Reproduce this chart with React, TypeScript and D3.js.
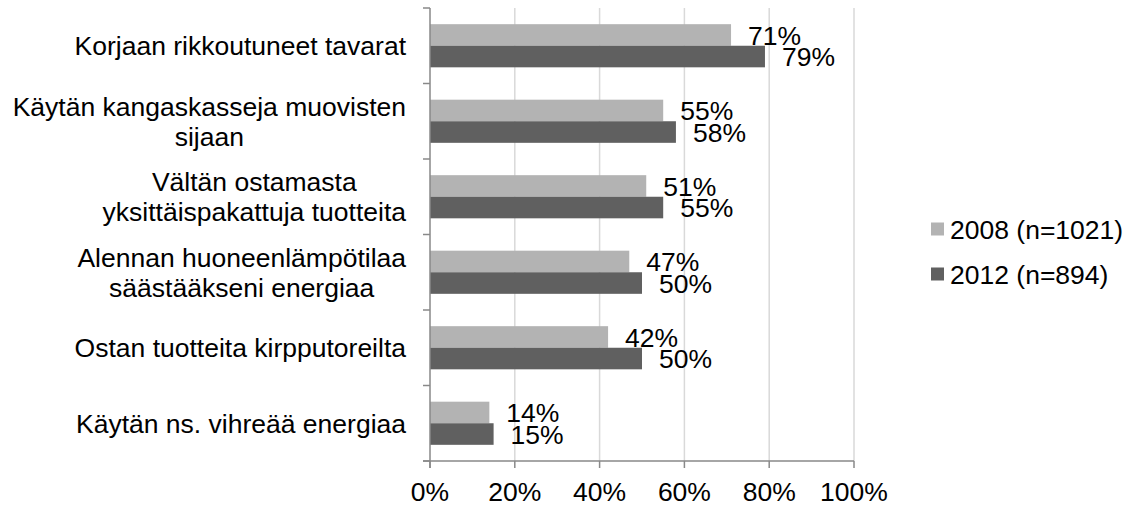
import React, { useEffect, useRef } from "react";
import * as d3 from "d3";

const categories: string[][] = [
  ["Korjaan rikkoutuneet tavarat"],
  ["Käytän kangaskasseja muovisten", "sijaan"],
  ["Vältän ostamasta", "yksittäispakattuja tuotteita"],
  ["Alennan huoneenlämpötilaa", "säästääkseni energiaa"],
  ["Ostan tuotteita kirpputoreilta"],
  ["Käytän ns. vihreää energiaa"],
];
const values2008: number[] = [71, 55, 51, 47, 42, 14];
const values2012: number[] = [79, 58, 55, 50, 50, 15];
const seriesNames: string[] = ["2008 (n=1021)", "2012 (n=894)"];
const xTicks: number[] = [0, 20, 40, 60, 80, 100];

const W = 1138;
const H = 506;
const FONT = "'Liberation Sans', Arial, sans-serif";
const FS = 26.5;
const colors = ["#b3b3b3", "#606060"];

export default function App() {
  const ref = useRef<SVGSVGElement | null>(null);

  useEffect(() => {
    const svg = d3.select(ref.current);
    svg.selectAll("*").remove();

    const left = 430;
    const right = 854;
    const top = 8;
    const bottom = 461;

    const x = d3.scaleLinear().domain([0, 100]).range([left, right]);
    const y = d3
      .scaleBand<number>()
      .domain(categories.map((_, i) => i))
      .range([top, bottom])
      .padding(0);
    const bw = y.bandwidth();
    const barH = bw / 3.5;

    // gridlines
    svg
      .append("g")
      .selectAll("line")
      .data(xTicks.slice(1))
      .join("line")
      .attr("x1", (d) => x(d))
      .attr("x2", (d) => x(d))
      .attr("y1", top)
      .attr("y2", bottom)
      .attr("stroke", "#d9d9d9")
      .attr("stroke-width", 1.5);

    // bars
    const series = [values2008, values2012];
    series.forEach((vals, s) => {
      svg
        .append("g")
        .selectAll("rect")
        .data(vals)
        .join("rect")
        .attr("x", x(0))
        .attr("y", (_, i) => (y(i) as number) + bw / 2 - barH + s * barH)
        .attr("width", (d) => x(d) - x(0))
        .attr("height", barH)
        .attr("fill", colors[s]);

      svg
        .append("g")
        .selectAll("text")
        .data(vals)
        .join("text")
        .attr("x", (d) => x(d) + 17)
        .attr("y", (_, i) => (y(i) as number) + bw / 2 - barH + s * barH + barH / 2)
        .attr("dy", "0.36em")
        .attr("font-family", FONT)
        .attr("font-size", FS)
        .attr("fill", "#000")
        .text((d) => `${d}%`);
    });

    // axes lines
    const axisColor = "#898989";
    svg
      .append("line")
      .attr("x1", left)
      .attr("x2", left)
      .attr("y1", top)
      .attr("y2", bottom + 7)
      .attr("stroke", axisColor)
      .attr("stroke-width", 1.5);
    svg
      .append("line")
      .attr("x1", left - 7)
      .attr("x2", right)
      .attr("y1", bottom)
      .attr("y2", bottom)
      .attr("stroke", axisColor)
      .attr("stroke-width", 1.5);

    // y ticks at category boundaries
    const bounds = d3.range(categories.length + 1).map((i) => top + i * bw);
    svg
      .append("g")
      .selectAll("line")
      .data(bounds)
      .join("line")
      .attr("x1", left - 7)
      .attr("x2", left)
      .attr("y1", (d) => d)
      .attr("y2", (d) => d)
      .attr("stroke", axisColor)
      .attr("stroke-width", 1.5);

    // x ticks
    svg
      .append("g")
      .selectAll("line")
      .data(xTicks)
      .join("line")
      .attr("x1", (d) => x(d))
      .attr("x2", (d) => x(d))
      .attr("y1", bottom)
      .attr("y2", bottom + 7)
      .attr("stroke", axisColor)
      .attr("stroke-width", 1.5);

    svg
      .append("g")
      .selectAll("text")
      .data(xTicks)
      .join("text")
      .attr("x", (d) => x(d))
      .attr("y", 501)
      .attr("text-anchor", "middle")
      .attr("font-family", FONT)
      .attr("font-size", FS)
      .attr("fill", "#000")
      .text((d) => `${d}%`);

    // category labels
    const labelRight = 406;
    const lineGap = 30;
    categories.forEach((lines, i) => {
      const cy = (y(i) as number) + bw / 2;
      const g = svg.append("g");
      const texts = lines.map((ln, k) =>
        g
          .append("text")
          .attr("y", cy + (k - (lines.length - 1) / 2) * lineGap)
          .attr("dy", "0.36em")
          .attr("font-family", FONT)
          .attr("font-size", FS)
          .attr("fill", "#000")
          .text(ln)
      );
      const maxW = d3.max(texts, (t) => (t.node() as SVGTextElement).getComputedTextLength()) || 0;
      texts.forEach((t) =>
        t.attr("x", labelRight - maxW / 2).attr("text-anchor", "middle")
      );
    });

    // legend
    const lg = svg.append("g");
    seriesNames.forEach((name, s) => {
      const cy = 229 + s * 45;
      lg.append("rect")
        .attr("x", 931)
        .attr("y", cy - 6.5)
        .attr("width", 13)
        .attr("height", 13)
        .attr("fill", colors[s]);
      lg.append("text")
        .attr("x", 950)
        .attr("y", cy)
        .attr("dy", "0.36em")
        .attr("font-family", FONT)
        .attr("font-size", FS)
        .attr("fill", "#000")
        .text(name);
    });
  }, []);

  return (
    <svg
      ref={ref}
      width={W}
      height={H}
      style={{ position: "absolute", left: 0, top: 0, background: "#fff" }}
    />
  );
}
